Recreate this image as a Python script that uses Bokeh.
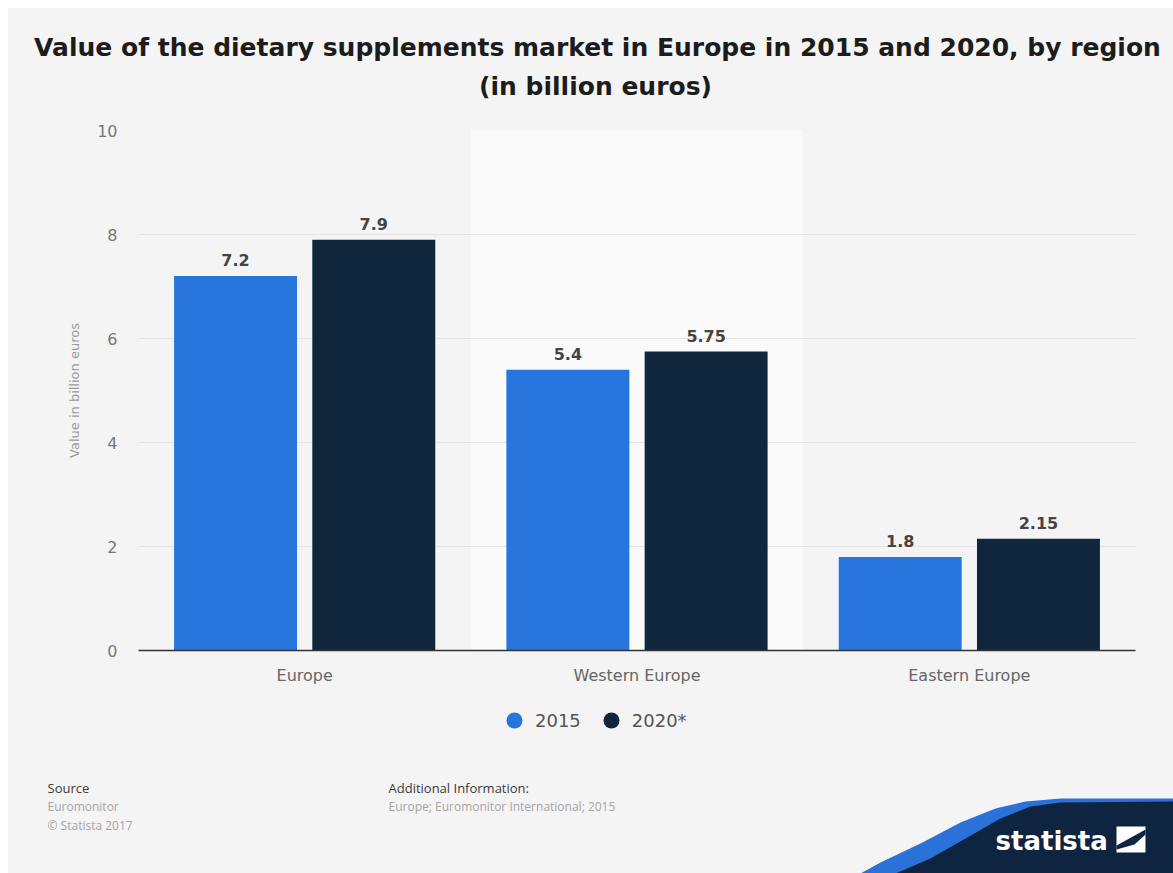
from bokeh.plotting import figure
from bokeh.models import (FactorRange, Range1d, ColumnDataSource, Legend, LegendItem, FixedTicker, Spacer)
from bokeh.layouts import column, row
from bokeh.transform import dodge
from bokeh.core.properties import value
from bokeh.embed import file_html
from bokeh.resources import INLINE

categories = ["Europe", "Western Europe", "Eastern Europe"]
series = ["2015", "2020*"]
values_2015 = [7.2, 5.4, 1.8]
values_2020 = [7.9, 5.75, 2.15]
y_ticks = [0, 2, 4, 6, 8, 10]

title_1 = "Value of the dietary supplements market in Europe in 2015 and 2020, by region"
title_2 = "(in billion euros)"
y_label = "Value in billion euros"

W, H = 1173, 873
M = 8                       # white page margin (top/left)
FL, FR, FT, FB = 138, 1135, 130, 650
HEAD_B = 115                # header figure bottom (page px)
FOOT_T = 695                # footer figure top (page px)
BG = "#f4f4f4"
C15 = "#2876dd"
C20 = "#10263d"
NAVY = "#0f2440"
F = value("DejaVu Sans")


def blank(height, y0, y1):
    f = figure(width=W - M, height=height, x_range=Range1d(M, W), y_range=Range1d(y1, y0),
               output_backend="svg", toolbar_location=None, min_border=0, frame_align=False)
    f.background_fill_color = BG
    f.border_fill_color = BG
    f.outline_line_color = None
    f.xaxis.visible = False
    f.yaxis.visible = False
    f.xgrid.grid_line_color = None
    f.ygrid.grid_line_color = None
    return f


# ---------------- header ----------------
head = blank(HEAD_B - M, M, HEAD_B)
head.text(x=[597, 595], y=[47, 86], text=[title_1, title_2], text_align="center", text_baseline="middle",
          text_font=F, text_font_style="bold", text_font_size="25px", text_color="#1c1c1c")

# ---------------- main chart ----------------
p = figure(x_range=FactorRange(*categories, range_padding=0), y_range=Range1d(0, 10),
           width=W - M, height=FOOT_T - HEAD_B, output_backend="svg", toolbar_location=None,
           min_border_left=FL - M, min_border_right=W - FR, min_border_top=FT - HEAD_B,
           min_border_bottom=FOOT_T - FB, frame_align=False)
p.background_fill_color = BG
p.border_fill_color = BG
p.outline_line_color = None

p.rect(x=[categories[1]], y=[5], width=1, height=10, fill_color="#fafafa", line_color=None, level="underlay")

src = ColumnDataSource(dict(cat=categories, v15=values_2015, v20=values_2020,
                            l15=[f"{v:g}" for v in values_2015], l20=[f"{v:g}" for v in values_2020]))
off = 0.208
bw = 0.37
p.vbar(x=dodge("cat", -off, range=p.x_range), top="v15", width=bw, source=src, fill_color=C15, line_color=None)
p.vbar(x=dodge("cat", off, range=p.x_range), top="v20", width=bw, source=src, fill_color=C20, line_color=None)
for col, vcol, d in (("l15", "v15", -off), ("l20", "v20", off)):
    p.text(x=dodge("cat", d, range=p.x_range), y=vcol, text=col, source=src,
           text_align="center", text_baseline="bottom", y_offset=-10, text_font_size="16px",
           text_font_style="bold", text_color="#444444", text_font=F)

p.yaxis.ticker = FixedTicker(ticks=y_ticks)
p.yaxis.axis_line_color = None
p.yaxis.major_tick_line_color = None
p.yaxis.minor_tick_line_color = None
p.yaxis.major_label_text_color = "#777777"
p.yaxis.major_label_text_font_size = "16px"
p.yaxis.major_label_text_font = "DejaVu Sans"
p.yaxis.major_label_standoff = 15
p.yaxis.axis_label = y_label
p.yaxis.axis_label_text_font_style = "normal"
p.yaxis.axis_label_text_font_size = "13px"
p.yaxis.axis_label_text_color = "#9a9a9a"
p.yaxis.axis_label_text_font = "DejaVu Sans"
p.yaxis.axis_label_standoff = 12

p.xaxis.axis_line_color = "#333333"
p.xaxis.axis_line_width = 1.5
p.xaxis.major_tick_line_color = None
p.xaxis.minor_tick_line_color = None
p.xaxis.major_label_text_color = "#666666"
p.xaxis.major_label_text_font_size = "16px"
p.xaxis.major_label_text_font = "DejaVu Sans"
p.xaxis.major_label_standoff = 9

p.xgrid.grid_line_color = None
p.ygrid.grid_line_color = "#e4e4e4"

# ---------------- footer ----------------
foot = blank(H - FOOT_T, FOOT_T, H)

r15 = foot.scatter(x=[0], y=[0], size=16, fill_color=C15, line_color=None)
r20 = foot.scatter(x=[0], y=[0], size=16, fill_color=C20, line_color=None)
legend = Legend(items=[LegendItem(label=series[0], renderers=[r15]), LegendItem(label=series[1], renderers=[r20])],
                orientation="horizontal", location=(486, 133), background_fill_alpha=0, border_line_color=None,
                label_text_font_size="18px", label_text_color="#555555", label_text_font="DejaVu Sans",
                glyph_width=40, glyph_height=40, spacing=10, label_standoff=1, padding=5, margin=0)
foot.add_layout(legend, "center")

OS = value("Open Sans")
foot.text(x=[47, 388], y=[787, 787], text=["Source", "Additional Information:"], text_baseline="middle",
          text_font=OS, text_font_size="13px", text_color="#3a3a3a")
foot.text(x=[47, 47, 388], y=[806, 825, 806],
          text=["Euromonitor", "\u00a9 Statista 2017", "Europe; Euromonitor International; 2015"],
          text_baseline="middle", text_font=OS, text_font_size="12px", text_color="#a5a5a5")

# statista corner decoration
foot.patch([860, 880, 920, 960, 995, 1025, 1060, 1173, 1173],
           [873, 862, 843, 822, 808, 801, 798, 798, 873], fill_color="#2a72d8", line_color=None)
foot.patch([895, 930, 965, 1000, 1030, 1060, 1173, 1173],
           [873, 858, 838, 818, 806, 802, 801, 873], fill_color=NAVY, line_color=None)
foot.text(x=[995], y=[840], text=["statista"], text_baseline="middle", text_font=F,
          text_font_style="bold", text_font_size="26px", text_color="#ffffff")
foot.patch([1116, 1145, 1145, 1116], [826, 826, 852, 852], fill_color="#ffffff", line_color=None)
foot.patch([1116, 1145, 1145, 1134, 1116], [845, 829, 834, 844, 849], fill_color=NAVY, line_color=None)

inner = column(head, p, foot, styles={"background-color": BG})
layout = column(Spacer(width=W, height=M), row(Spacer(width=M, height=H - M), inner))
open("out.html", "w").write(file_html(layout, INLINE))
